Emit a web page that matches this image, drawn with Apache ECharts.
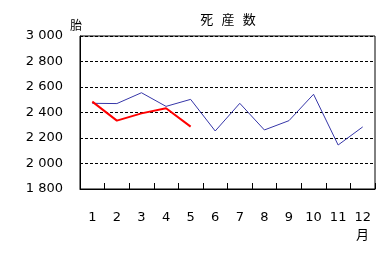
<!DOCTYPE html>
<html><head><meta charset="utf-8">
<script src="https://cdn.jsdelivr.net/npm/echarts@6/dist/echarts.min.js"></script>
<style>html,body{margin:0;padding:0;background:#fff}#c{width:385px;height:266px}</style>
</head><body><div id="c"></div>
<script>
var months = ['1','2','3','4','5','6','7','8','9','10','11','12'];
var prevYear = [2472, 2470, 2555, 2448, 2503, 2255, 2472, 2263, 2336, 2543, 2145, 2287];
var thisYear = [2485, 2336, 2393, 2433, 2289];
var yTicks = {min: 1800, max: 3000, interval: 200};
var titleText = '死  産  数';
var yUnit = '胎';
var xUnit = '月';
var font = '"DejaVu Sans", "Noto Sans CJK JP", sans-serif';
var chart = echarts.init(document.getElementById('c'), null, {renderer: 'canvas'});
chart.setOption({
  animation: false,
  title: {text: titleText, left: 223, top: 9, textAlign: 'center',
    textStyle: {fontSize: 13, fontWeight: 'normal', color: '#000', fontFamily: font}},
  graphic: [
    {type: 'text', left: 356, top: 229, style: {text: xUnit, fontSize: 13, fill: '#000', fontFamily: font}}
  ],
  grid: {left: 80, right: 10, top: 36, bottom: 77, show: true, borderColor: '#000', borderWidth: 1},
  xAxis: {type: 'category', data: months, boundaryGap: true,
    axisLine: {lineStyle: {color: '#000', width: 1}},
    axisTick: {show: true, inside: true, length: 6, lineStyle: {color: '#000'}},
    axisLabel: {margin: 22, fontSize: 13, color: '#000', fontFamily: font}},
  yAxis: {type: 'value', min: yTicks.min, max: yTicks.max, interval: yTicks.interval,
    name: yUnit, nameLocation: 'end', nameGap: 3,
    nameTextStyle: {fontSize: 12, color: '#000', fontFamily: font, align: 'right', padding: [0, -2, 0, 0]},
    axisLine: {show: true, lineStyle: {color: '#000'}},
    axisTick: {show: false},
    splitLine: {show: true, lineStyle: {color: '#000', type: [3, 2], width: 1}},
    axisLabel: {margin: 17, fontSize: 13, color: '#000', fontFamily: font,
      formatter: function (v) { var s = String(v); return s.length > 3 ? s.slice(0, s.length - 3) + ' ' + s.slice(-3) : s; }}},
  series: [
    {type: 'line', data: prevYear, symbol: 'none', lineStyle: {color: '#3636a8', width: 1}, z: 2},
    {type: 'line', data: thisYear, symbol: 'none', lineStyle: {color: '#ff0000', width: 2}, z: 3}
  ]
});
</script></body></html>
